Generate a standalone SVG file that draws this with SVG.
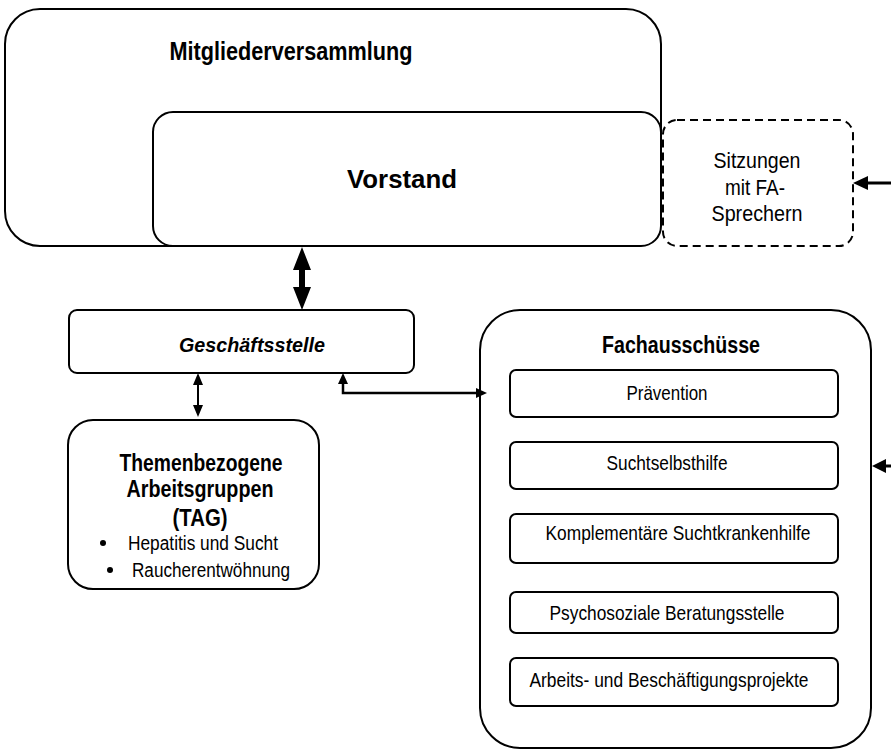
<svg xmlns="http://www.w3.org/2000/svg" width="891" height="750" viewBox="0 0 891 750">
<style>
.box{fill:#fff;stroke:#000;stroke-width:2}
.dash{fill:#fff;stroke:#000;stroke-width:2;stroke-dasharray:8 5}
.t{font-family:"Liberation Sans Narrow","Liberation Sans",Arial,sans-serif;fill:#000;text-anchor:middle}
.b{font-weight:bold}
.ln{fill:none;stroke:#000}
.ah{fill:#000;stroke:none}
</style>
<rect width="891" height="750" fill="#fff"/>
<g id="mitgliederversammlung">
<rect class="box" x="5" y="9" width="656" height="237" rx="35"/>
<text class="t b" font-size="25" x="291" y="60" textLength="243" lengthAdjust="spacingAndGlyphs">Mitgliederversammlung</text>
</g>
<g id="vorstand">
<rect class="box" x="153" y="112" width="508" height="134" rx="20"/>
<text class="t b" font-size="26" x="402" y="188" textLength="110" lengthAdjust="spacingAndGlyphs">Vorstand</text>
</g>
<g id="sitzungen">
<rect class="dash" x="663" y="120" width="190" height="126" rx="14"/>
<text class="t" font-size="22" x="757" y="168" textLength="87" lengthAdjust="spacingAndGlyphs">Sitzungen</text>
<text class="t" font-size="22" x="755" y="195" textLength="60" lengthAdjust="spacingAndGlyphs">mit FA-</text>
<text class="t" font-size="22" x="757" y="221" textLength="91" lengthAdjust="spacingAndGlyphs">Sprechern</text>
</g>
<g id="geschaeftsstelle">
<rect class="box" x="69" y="310" width="345" height="63" rx="8"/>
<text class="t b" font-size="20" x="252" y="352" font-style="italic" textLength="146" lengthAdjust="spacingAndGlyphs">Geschäftsstelle</text>
</g>
<g id="tag">
<rect class="box" x="68" y="420" width="251" height="169" rx="25"/>
<text class="t b" font-size="24" x="201" y="471" textLength="163" lengthAdjust="spacingAndGlyphs">Themenbezogene</text>
<text class="t b" font-size="24" x="200" y="497" textLength="147" lengthAdjust="spacingAndGlyphs">Arbeitsgruppen</text>
<text class="t b" font-size="24" x="200" y="526" textLength="55" lengthAdjust="spacingAndGlyphs">(TAG)</text>
<circle cx="103" cy="543" r="3" fill="#000"/>
<text class="t" font-size="20" x="203" y="550" textLength="150" lengthAdjust="spacingAndGlyphs">Hepatitis und Sucht</text>
<circle cx="110" cy="570" r="3" fill="#000"/>
<text class="t" font-size="20" x="211" y="577" textLength="158" lengthAdjust="spacingAndGlyphs">Raucherentwöhnung</text>
</g>
<g id="fachausschuesse">
<rect class="box" x="480" y="310" width="391" height="438" rx="40"/>
<text class="t b" font-size="23" x="681" y="353" textLength="158" lengthAdjust="spacingAndGlyphs">Fachausschüsse</text>
</g>
<g id="praevention">
<rect class="box" x="510" y="370" width="328" height="47" rx="6"/>
<text class="t" font-size="21" x="667" y="400" textLength="81" lengthAdjust="spacingAndGlyphs">Prävention</text>
</g>
<g id="suchtselbsthilfe">
<rect class="box" x="510" y="442" width="328" height="47" rx="6"/>
<text class="t" font-size="21" x="667" y="470" textLength="121" lengthAdjust="spacingAndGlyphs">Suchtselbsthilfe</text>
</g>
<g id="komplementaere">
<rect class="box" x="510" y="514" width="328" height="49" rx="6"/>
<text class="t" font-size="21" x="678" y="540" textLength="265" lengthAdjust="spacingAndGlyphs">Komplementäre Suchtkrankenhilfe</text>
</g>
<g id="psychosoziale">
<rect class="box" x="510" y="592" width="328" height="41" rx="6"/>
<text class="t" font-size="21" x="667" y="620" textLength="235" lengthAdjust="spacingAndGlyphs">Psychosoziale Beratungsstelle</text>
</g>
<g id="arbeits">
<rect class="box" x="510" y="658" width="328" height="48" rx="6"/>
<text class="t" font-size="21" x="669" y="687" textLength="279" lengthAdjust="spacingAndGlyphs">Arbeits- und Beschäftigungsprojekte</text>
</g>
<g id="connectors">
<path class="ah" d="M302,247 L311,270 L305,270 L305,287 L311,287 L302,310 L293,287 L299,287 L299,270 L293,270 Z"/>
<path class="ah" d="M198,373 L203,385 L199,385 L199,405 L203,405 L198,417 L193,405 L197,405 L197,385 L193,385 Z"/>
<path class="ln" stroke-width="2.5" d="M343,382 V393 H478"/>
<path class="ah" d="M343,373 L348,384 L338,384 Z"/>
<path class="ah" d="M487,393 L476,388 L476,398 Z"/>
<path class="ln" stroke-width="3" d="M891,183 H866"/>
<path class="ah" d="M853,183 L868,176 L868,190 Z"/>
<path class="ln" stroke-width="3" d="M891,466 H884"/>
<path class="ah" d="M872,466 L886,459 L886,473 Z"/>
</g>
</svg>
